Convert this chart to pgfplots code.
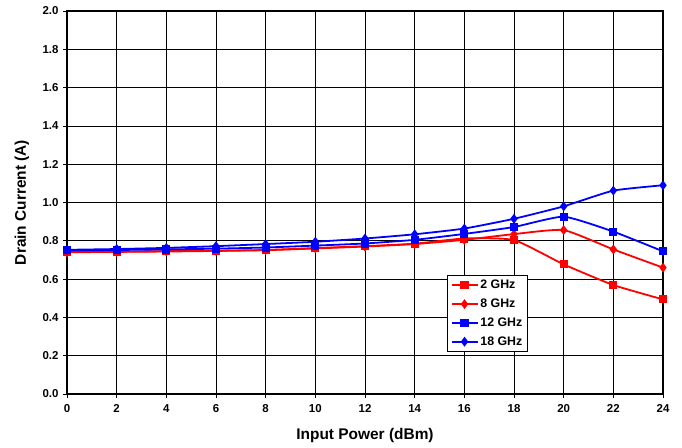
\documentclass[border=0pt]{standalone}
\usepackage{fontspec}
\setmainfont{Liberation Sans}
\usepackage{pgfplots}
\pgfplotsset{compat=1.18}
\begin{document}
\begin{tikzpicture}
\begin{axis}[
  scale only axis,
  width=596bp, height=383bp,
  xmin=0, xmax=24, ymin=0, ymax=2,
  xtick={0,2,...,24}, ytick={0,0.2,...,2.0},
  yticklabel style={xshift=-1bp, /pgf/number format/.cd, fixed, fixed zerofill, precision=1},
  /pgf/number format/assume math mode=true,
  ticklabel style={font=\bfseries\fontsize{11.5}{13}\selectfont},
  xticklabel style={yshift=-3bp},
  xlabel={\bfseries Input Power (dBm)},
  ylabel={\bfseries Drain Current (A)},
  label style={font=\bfseries\fontsize{15.5}{17}\selectfont},
  xlabel style={at={(axis description cs:0.5,0)}, anchor=center, yshift=-42bp},
  ylabel style={at={(axis description cs:0,0.5)}, anchor=center, yshift=45bp},
  grid=major, major grid style={black, line width=0.6pt},
  axis line style={black, line width=1.5pt},
  tick align=outside, tick pos=left,
  major tick length=4pt,
  every tick/.style={black, line width=0.6pt},
  legend style={at={(0.638,0.311)}, anchor=north west, draw=black, line width=0.8pt, font=\bfseries\fontsize{12.4}{14}\selectfont, row sep=4.7pt, inner sep=3pt},
  legend image code/.code={\draw[line width=1.8pt, mark repeat=2, mark phase=2] plot coordinates {(0bp,0bp)(13bp,0bp)(26bp,0bp)};},
  legend cell align=left,
  every axis plot/.append style={line width=1.8pt, smooth, tension=0.3},
  clip=false,
]
\addplot[red, mark=square*, mark size=3.2pt, mark options={solid}] coordinates {
(0,0.742)(2,0.743)(4,0.746)(6,0.748)(8,0.752)(10,0.762)(12,0.772)(14,0.785)(16,0.812)(18,0.804)(20,0.677)(22,0.569)(24,0.494)};
\addlegendentry{2 GHz}
\addplot[red, mark=diamond*, mark size=3.5pt] coordinates {
(0,0.74)(2,0.742)(4,0.744)(6,0.747)(8,0.751)(10,0.76)(12,0.77)(14,0.783)(16,0.805)(18,0.835)(20,0.856)(22,0.755)(24,0.66)};
\addlegendentry{8 GHz}
\addplot[blue, mark=square*, mark size=3.2pt] coordinates {
(0,0.75)(2,0.752)(4,0.755)(6,0.759)(8,0.765)(10,0.775)(12,0.786)(14,0.805)(16,0.836)(18,0.872)(20,0.926)(22,0.848)(24,0.745)};
\addlegendentry{12 GHz}
\addplot[blue, mark=diamond*, mark size=3.5pt] coordinates {
(0,0.753)(2,0.757)(4,0.763)(6,0.772)(8,0.783)(10,0.795)(12,0.812)(14,0.834)(16,0.864)(18,0.915)(20,0.98)(22,1.062)(24,1.09)};
\addlegendentry{18 GHz}
\end{axis}
\pgfresetboundingbox
\path[use as bounding box] (-67bp,-54bp) rectangle (615bp,394bp);
\end{tikzpicture}
\end{document}
